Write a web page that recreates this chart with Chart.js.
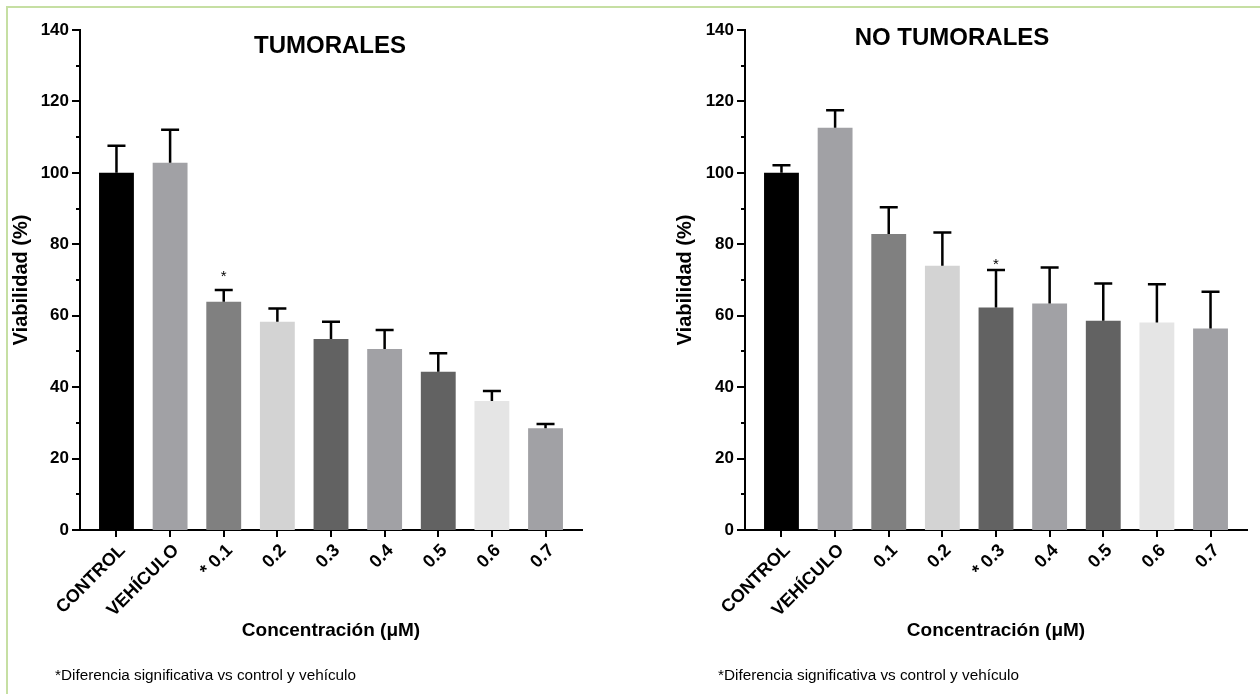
<!DOCTYPE html>
<html>
<head>
<meta charset="utf-8">
<script src="https://cdn.jsdelivr.net/npm/chart.js@4.4.1/dist/chart.umd.min.js"></script>
<style>
  body { margin: 0; background: #fff; }
  #wrap { position: relative; width: 1260px; height: 694px; overflow: hidden; background: #fff; font-family: "Liberation Sans", Arial, sans-serif; }
  #frame { position: absolute; left: 6px; top: 6px; width: 1300px; height: 800px; border-left: 2px solid #c6dfa3; border-top: 2px solid #c6dfa3; }
  canvas { position: absolute; top: 0; }
  .title { position: absolute; transform: translate(-50%, -50%); font-weight: bold; font-size: 24px; white-space: nowrap; color: #000; }
  .note { position: absolute; transform: translateY(-50%); font-size: 15.3px; white-space: nowrap; color: #000; }
</style>
</head>
<body>
<div id="wrap">
  <div id="frame"></div>
  <canvas id="tumor" width="630" height="694" style="left:0"></canvas>
  <canvas id="noTumor" width="630" height="694" style="left:630px"></canvas>
  <div class="title" style="left:330px; top:45px">TUMORALES</div>
  <div class="title" style="left:952px; top:37px">NO TUMORALES</div>
  <div class="note" style="left:55px; top:675px">*Diferencia significativa vs control y vehículo</div>
  <div class="note" style="left:718px; top:675px">*Diferencia significativa vs control y vehículo</div>
</div>
<script>
// data
const tumorLabels = ["CONTROL", "VEHÍCULO", "* 0.1", "0.2", "0.3", "0.4", "0.5", "0.6", "0.7"]
const noTumorLabels = ["CONTROL", "VEHÍCULO", "0.1", "0.2", "* 0.3", "0.4", "0.5", "0.6", "0.7"]
const tumorMeans = [100, 102.8, 63.9, 58.3, 53.5, 50.7, 44.3, 36.1, 28.5]
const tumorErr = [7.6, 9.3, 3.3, 3.7, 4.8, 5.3, 5.2, 2.8, 1.2]
const noTumorMeans = [100, 112.6, 82.9, 74.0, 62.3, 63.4, 58.6, 58.1, 56.4]
const noTumorErr = [2.1, 4.9, 7.5, 9.3, 10.5, 10.1, 10.4, 10.7, 10.3]
const barColors = ["#000000", "#a1a1a5", "#808080", "#d3d3d3", "#626262", "#a1a1a5", "#626262", "#e5e5e5", "#a1a1a5"]

const fontFamily = '"Liberation Sans", Arial, sans-serif'

// error bars, asterisk and tick marks
const extras = {
  id: "extras",
  afterDatasetsDraw(chart, args, opts) {
    const ctx = chart.ctx
    const ys = chart.scales.y
    const meta = chart.getDatasetMeta(0)
    ctx.save()
    ctx.strokeStyle = "#000"
    ctx.lineWidth = 2.5
    meta.data.forEach((bar, i) => {
      const mean = chart.data.datasets[0].data[i].y
      const y0 = ys.getPixelForValue(mean)
      const y1 = ys.getPixelForValue(mean + opts.errs[i])
      ctx.beginPath()
      ctx.moveTo(bar.x, y0)
      ctx.lineTo(bar.x, y1)
      ctx.moveTo(bar.x - 9, y1)
      ctx.lineTo(bar.x + 9, y1)
      ctx.stroke()
      if (i === opts.star) {
        ctx.fillStyle = "#000"
        ctx.font = "15px " + fontFamily
        ctx.textAlign = "center"
        ctx.textBaseline = "alphabetic"
        ctx.fillText("*", bar.x, y1 - opts.starGap)
      }
    })
    ctx.restore()
  },
  afterDraw(chart) {
    const ctx = chart.ctx
    const ys = chart.scales.y
    const xs = chart.scales.x
    const area = chart.chartArea
    ctx.save()
    ctx.strokeStyle = "#000"
    ctx.lineWidth = 2
    for (let v = 0; v <= 140; v += 10) {
      const y = Math.round(ys.getPixelForValue(v))
      const len = v % 20 === 0 ? 8 : 4
      ctx.beginPath()
      ctx.moveTo(area.left - len, y)
      ctx.lineTo(area.left, y)
      ctx.stroke()
    }
    xs.ticks.forEach(t => {
      const x = Math.round(xs.getPixelForValue(t.value))
      ctx.beginPath()
      ctx.moveTo(x, area.bottom)
      ctx.lineTo(x, area.bottom + 7)
      ctx.stroke()
    })
    ctx.restore()
  }
}

function makeChart(id, labels, means, errs, star, starGap, padLeft, padRight, yWidth) {
  const el = document.getElementById(id)
  return new Chart(el, {
    type: "bar",
    data: {
      datasets: [{
        data: means.map((v, i) => ({ x: i, y: v })),
        backgroundColor: barColors,
        borderWidth: 0,
        categoryPercentage: 1,
        barPercentage: 0.65
      }]
    },
    options: {
      responsive: false,
      animation: false,
      layout: { padding: { left: padLeft, right: padRight, top: 30, bottom: 52 } },
      plugins: {
        legend: { display: false },
        tooltip: { enabled: false },
        extras: { errs: errs, star: star, starGap: starGap }
      },
      scales: {
        x: {
          type: "linear",
          offset: false,
          min: -0.68,
          max: 8.68,
          afterBuildTicks: s => { s.ticks = labels.map((l, i) => ({ value: i })) },
          afterFit: s => { s.height = 112 },
          ticks: {
            callback: v => labels[v],
            autoSkip: false,
            minRotation: 45,
            maxRotation: 45,
            padding: 10,
            labelOffset: 6,
            color: "#000",
            font: { family: fontFamily, size: 18, weight: "bold" }
          },
          grid: { display: false, drawTicks: false, offset: false },
          border: { display: true, color: "#000", width: 2 },
          title: {
            display: true,
            text: "Concentración (μM)",
            color: "#000",
            padding: 0,
            font: { family: fontFamily, size: 19, weight: "bold" }
          }
        },
        y: {
          min: 0,
          max: 140,
          afterFit: s => { s.width = yWidth },
          ticks: {
            stepSize: 10,
            callback: v => (v % 20 === 0 ? v : ""),
            padding: 11,
            color: "#000",
            font: { family: fontFamily, size: 17, weight: "bold" }
          },
          grid: { display: false, drawTicks: false },
          border: { display: true, color: "#000", width: 2 },
          title: {
            display: true,
            text: "Viabilidad (%)",
            color: "#000",
            padding: 1,
            font: { family: fontFamily, size: 20, weight: "bold" }
          }
        }
      }
    },
    plugins: [extras]
  })
}

const tumorChart = makeChart("tumor", tumorLabels, tumorMeans, tumorErr, 2, 9, 8, 48, 72)
const noTumorChart = makeChart("noTumor", noTumorLabels, noTumorMeans, noTumorErr, 4, 1, 42, 13, 73)
</script>
</body>
</html>
